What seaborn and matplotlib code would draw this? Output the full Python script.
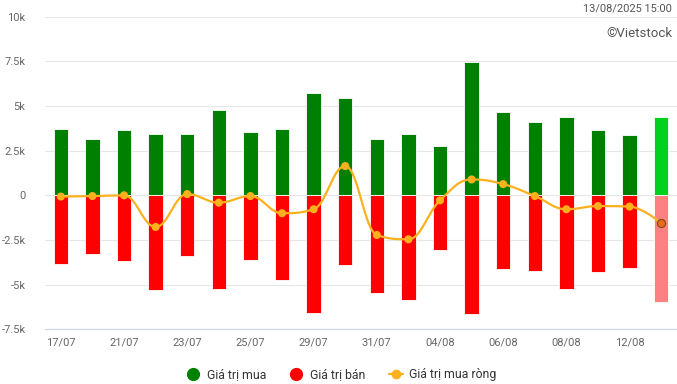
import numpy as np
import matplotlib
matplotlib.use("Agg")
import matplotlib.pyplot as plt
from matplotlib.lines import Line2D
import seaborn as sns

# values (same unit as the axis, "k" = thousand)
dates = ['17/07', '18/07', '21/07', '22/07', '23/07', '24/07', '25/07', '28/07', '29/07', '30/07',
         '31/07', '01/08', '04/08', '05/08', '06/08', '07/08', '08/08', '11/08', '12/08', '13/08']
buy = [3690, 3180, 3630, 3460, 3410, 4800, 3540, 3700, 5750, 5470,
       3180, 3410, 2790, 7490, 4690, 4130, 4410, 3630, 3350, 4360]
sell = [-3850, -3300, -3690, -5290, -3410, -5250, -3630, -4750, -6590, -3910,
        -5470, -5870, -3070, -6650, -4130, -4250, -5250, -4300, -4080, -5980]
net = [-70, -40, 0, -1770, 70, -410, -40, -1000, -780, 1640,
       -2220, -2460, -280, 890, 630, -40, -780, -600, -630, -1560]

GREEN, GREEN_LAST = '#008000', '#00d11f'
RED, RED_LAST = '#ff0000', '#ff8080'
ORANGE = '#fbb11e'

sns.set_style('white')
plt.rcParams['font.family'] = ['Roboto', 'DejaVu Sans']

fig = plt.figure(figsize=(6.77, 3.84), dpi=100)
ax = fig.add_axes([0.0665, 0.1424, 0.9335, 0.8141])

idx = np.arange(len(dates))
sns.barplot(x=idx, y=buy, color=GREEN, width=0.46, saturation=1, ax=ax,
            edgecolor='white', linewidth=0.6, zorder=2)
sns.barplot(x=idx, y=sell, color=RED, width=0.46, saturation=1, ax=ax,
            edgecolor='white', linewidth=0.6, zorder=2)
n = len(dates)
ax.patches[n - 1].set_facecolor(GREEN_LAST)
ax.patches[2 * n - 1].set_facecolor(RED_LAST)


def spline_path(x, y, smoothing=1.5, steps=30):
    # bezier control points like a highcharts "spline" series (drawing only)
    x = np.asarray(x, float)
    y = np.asarray(y, float)
    k = len(x)
    left = [(x[i], y[i]) for i in range(k)]
    right = [(x[i], y[i]) for i in range(k)]
    d = smoothing + 1
    for i in range(1, k - 1):
        lx, ly = x[i - 1], y[i - 1]
        nx, ny = x[i + 1], y[i + 1]
        lcx, lcy = (smoothing * x[i] + lx) / d, (smoothing * y[i] + ly) / d
        rcx, rcy = (smoothing * x[i] + nx) / d, (smoothing * y[i] + ny) / d
        corr = (rcy - lcy) * (rcx - x[i]) / (rcx - lcx) + y[i] - rcy
        lcy += corr
        rcy += corr
        if lcy > ly and lcy > y[i]:
            lcy = max(ly, y[i]); rcy = 2 * y[i] - lcy
        elif lcy < ly and lcy < y[i]:
            lcy = min(ly, y[i]); rcy = 2 * y[i] - lcy
        if rcy > ny and rcy > y[i]:
            rcy = max(ny, y[i]); lcy = 2 * y[i] - rcy
        elif rcy < ny and rcy < y[i]:
            rcy = min(ny, y[i]); lcy = 2 * y[i] - rcy
        left[i] = (lcx, lcy)
        right[i] = (rcx, rcy)
    t = np.linspace(0, 1, steps)[:, None]
    segs = []
    for i in range(k - 1):
        p0 = np.array([x[i], y[i]])
        p1 = np.array(right[i])
        p2 = np.array(left[i + 1])
        p3 = np.array([x[i + 1], y[i + 1]])
        segs.append((1 - t)**3 * p0 + 3 * (1 - t)**2 * t * p1 + 3 * (1 - t) * t**2 * p2 + t**3 * p3)
    pts = np.vstack(segs)
    return pts[:, 0], pts[:, 1]


sx, sy = spline_path(idx, net)
ax.plot(sx, sy, color=ORANGE, lw=1.6, zorder=3)
sns.scatterplot(x=idx[:-1], y=net[:-1], color=ORANGE, s=34, edgecolor='none', zorder=4, ax=ax)
sns.scatterplot(x=idx[-1:], y=net[-1:], color='#ee6b18', s=34, edgecolor='#7a4a1a',
                linewidth=0.8, zorder=4, ax=ax)

ax.set_xlim(-0.5, n - 0.5)
ax.set_ylim(-7500, 10000)
yt = np.arange(-7500, 10001, 2500)
ax.set_yticks(yt)
ax.set_yticklabels(['0' if v == 0 else f'{v / 1000:g}k' for v in yt])
ax.set_xticks(idx[::2])
ax.set_xticklabels(dates[::2])
ax.tick_params(axis='y', length=0, pad=14, labelsize=8, labelcolor='#666666')
ax.tick_params(axis='x', length=0, pad=6, labelsize=8, labelcolor='#666666')
ax.grid(axis='y', color='#e6e6e6', lw=0.8, zorder=0)
ax.set_axisbelow(True)
for s in ['top', 'right', 'left']:
    ax.spines[s].set_visible(False)
ax.spines['bottom'].set_color('#ccd6eb')
ax.spines['bottom'].set_linewidth(0.8)

fig.text(0.993, 0.978, '13/08/2025 15:00', ha='right', va='center', fontsize=7.9, color='#555555')
fig.text(0.993, 0.913, '©Vietstock', ha='right', va='center', fontsize=9.5, color='#555555')

handles = [
    Line2D([], [], ls='none', marker='o', ms=8.5, color=GREEN),
    Line2D([], [], ls='none', marker='o', ms=8.5, color=RED),
    Line2D([], [], color=ORANGE, lw=1.6, marker='o', ms=6),
]
fig.legend(handles, ['Giá trị mua', 'Giá trị bán', 'Giá trị mua ròng'], loc='center',
           bbox_to_anchor=(0.504, 0.024), ncol=3, frameon=False, fontsize=8.8,
           handlelength=1.2, handletextpad=0.5, columnspacing=1.9, labelcolor='#333333')

fig.savefig('out.png', dpi=100)
